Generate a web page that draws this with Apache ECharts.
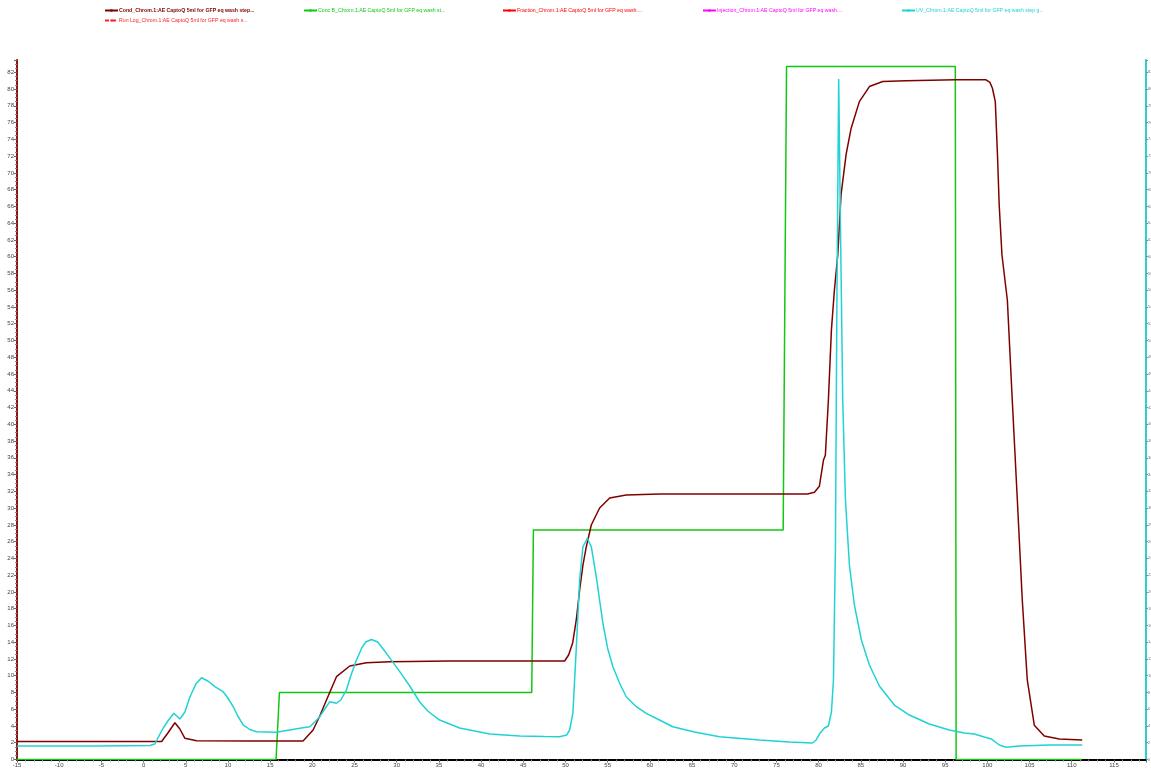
<!DOCTYPE html>
<html>
<head>
<meta charset="utf-8">
<title>Chromatogram</title>
<script src="https://cdn.jsdelivr.net/npm/echarts@6/dist/echarts.min.js"></script>
<style>
  html, body { margin: 0; padding: 0; background: #fff; }
  #chart { width: 1151px; height: 773px; }
</style>
</head>
<body>
<div id="chart"></div>
<script>
// legend names
const condName = 'Cond_Chrom.1:AE CaptoQ 5ml for GFP eq wash step...';
const concName = 'Conc B_Chrom.1:AE CaptoQ 5ml for GFP eq wash st...';
const fracName = 'Fraction_Chrom.1:AE CaptoQ 5ml for GFP eq wash....';
const injName = 'Injection_Chrom.1:AE CaptoQ 5ml for GFP eq wash....';
const uvName = 'UV_Chrom.1:AE CaptoQ 5ml for GFP eq wash step g...';
const runLogName = 'Run Log_Chrom.1:AE CaptoQ 5ml for GFP eq wash s...';

// [volume, value]
const condData = [
  [-15, 2.15], [2.14, 2.15], [2.88, 3.16], [3.71, 4.39], [4.30, 3.64], [4.90, 2.53],
  [6.28, 2.24], [12.59, 2.2], [18.9, 2.2], [20.09, 3.52], [20.88, 5.19], [21.68, 7.1],
  [22.86, 9.88], [24.44, 11.16], [26.41, 11.55], [29.17, 11.67], [36.28, 11.75],
  [45.75, 11.75], [49.9, 11.75], [50.37, 12.47], [50.85, 13.9], [51.28, 16.65],
  [51.68, 20.23], [52.07, 23.2], [52.47, 25.39], [53.06, 27.98], [54.05, 30.01],
  [55.24, 31.2], [57.2, 31.56], [61.15, 31.68], [69.44, 31.68], [78.68, 31.68],
  [79.51, 31.9], [80.09, 32.6], [80.57, 35.7], [80.8, 36.3], [81.16, 42.9],
  [81.52, 51.3], [81.87, 56.0], [82.27, 60.2], [82.66, 67.4], [83.26, 72.2],
  [83.85, 75.3], [84.83, 78.5], [86.02, 80.3], [87.6, 80.9], [90.36, 81.0],
  [96.28, 81.1], [96.47, 81.3], [96.6, 81.1], [99.84, 81.1], [100.3, 80.8],
  [100.6, 80.1], [100.94, 78.5], [101.2, 72.1], [101.4, 66.2], [101.73, 60.2],
  [102.37, 54.8], [102.95, 42.9], [103.55, 31.0], [104.14, 19.0], [104.73, 9.49],
  [105.56, 4.1], [106.74, 2.8], [108.52, 2.45], [111.24, 2.33]
];

const concData = [
  [-15, 0], [15.7, 0], [16.1, 8.0], [46.0, 8.0], [46.2, 27.4], [75.8, 27.4],
  [76.2, 82.7], [96.2, 82.7], [96.3, 0], [111.2, 0]
];

const uvData = [
  [-15, 1.6], [-5.17, 1.6], [0.75, 1.67], [1.34, 1.85], [1.70, 2.57], [2.33, 3.76],
  [2.88, 4.59], [3.59, 5.51], [4.30, 4.83], [4.9, 5.67], [5.49, 7.46], [6.2, 9.0],
  [6.87, 9.76], [7.62, 9.37], [8.45, 8.69], [9.43, 8.09], [9.99, 7.34], [10.62, 6.3],
  [11.17, 5.19], [11.8, 4.12], [12.59, 3.58], [13.39, 3.32], [15.76, 3.25],
  [18.51, 3.72], [19.7, 3.91], [20.29, 4.47], [20.88, 5.11], [21.48, 6.03],
  [22.07, 6.9], [22.86, 6.71], [23.37, 7.1], [24.04, 8.29], [24.55, 9.96],
  [25.23, 11.87], [25.86, 13.31], [26.33, 14.02], [27.0, 14.32], [27.75, 14.02],
  [28.78, 12.67], [30.36, 10.48], [31.54, 8.77], [32.73, 6.86], [33.67, 5.79],
  [35.09, 4.71], [37.46, 3.76], [41.02, 3.04], [44.57, 2.8], [47.53, 2.74],
  [49.31, 2.72], [50.14, 2.92], [50.49, 3.52], [50.88, 5.55], [51.29, 13.46],
  [51.68, 21.42], [52.07, 25.39], [52.59, 26.4], [53.06, 25.39], [53.65, 21.81],
  [54.43, 16.29], [54.99, 13.31], [55.62, 11.07], [56.41, 9.13], [57.2, 7.49],
  [58.31, 6.38], [59.57, 5.51], [61.15, 4.71], [62.72, 3.91], [65.29, 3.28],
  [68.25, 2.72], [72.99, 2.33], [76.54, 2.09], [79.27, 1.97], [79.71, 2.33],
  [80.09, 3.04], [80.69, 3.76], [81.16, 4.0], [81.52, 5.67], [81.76, 9.49],
  [81.99, 25.0], [82.17, 54.8], [82.38, 81.2], [82.58, 64.4], [82.86, 42.9],
  [83.18, 31.0], [83.65, 23.2], [84.24, 18.44], [85.07, 14.26], [86.02, 11.28],
  [87.2, 8.77], [88.98, 6.5], [90.76, 5.31], [93.12, 4.24], [95.49, 3.52],
  [97.27, 3.16], [98.45, 3.04], [99.64, 2.68], [100.47, 2.45], [101.41, 1.73],
  [102.21, 1.46], [103.78, 1.61], [107.33, 1.73], [111.24, 1.73]
];

const xMin = -15, xMax = 118.8, xStep = 5;
const yMin = 0, yMax = 83.47, yStep = 2;

const condColor = '#800000';
const concColor = '#10c810';
const fracColor = '#ff0000';
const injColor = '#ff00ff';
const uvColor = '#20d2d4';
const runLogColor = '#ff2020';

const chart = echarts.init(document.getElementById('chart'));

const legendFont = 'Liberation Sans Narrow, Liberation Sans, Arial, sans-serif';
function legendAt(name, left, top, color, bold) {
  return {
    data: [name],
    left: left,
    top: top,
    padding: 0,
    itemWidth: 13,
    itemHeight: 3,
    itemGap: 2,
    selectedMode: false,
    textStyle: {
      color: color,
      fontSize: 5.2,
      fontFamily: legendFont,
      fontWeight: bold ? 'bold' : 'normal',
      padding: [0, 0, 0, -4]
    }
  };
}

const axisFont = { fontSize: 6, color: '#444', fontFamily: 'Liberation Sans, Arial, sans-serif' };

chart.setOption({
  animation: false,
  backgroundColor: '#fff',
  legend: [
    legendAt(condName, 104, 8, condColor, true),
    legendAt(concName, 303, 8, concColor, false),
    legendAt(fracName, 502, 8, fracColor, false),
    legendAt(injName, 702, 8, injColor, false),
    legendAt(uvName, 901, 8, uvColor, false),
    legendAt(runLogName, 104, 18, runLogColor, false)
  ],
  grid: { left: 17, right: 5, top: 60, bottom: 13.5, containLabel: false, outerBoundsMode: 'none' },
  xAxis: {
    type: 'value',
    min: xMin,
    max: xMax,
    interval: xStep,
    axisLine: { show: true, onZero: false, lineStyle: { color: '#000', width: 2 } },
    axisTick: { show: true, length: 3, lineStyle: { color: '#666' } },
    minorTick: { show: true, splitNumber: 5, length: 2, lineStyle: { color: '#888' } },
    splitLine: { show: false },
    axisLabel: Object.assign({ margin: 3, showMaxLabel: false }, axisFont)
  },
  yAxis: [
    {
      type: 'value',
      min: yMin,
      max: yMax,
      interval: yStep,
      position: 'left',
      axisLine: { show: true, onZero: false, lineStyle: { color: '#8b1414', width: 2 } },
      axisTick: { show: true, length: 3, lineStyle: { color: '#666' } },
      minorTick: { show: true, splitNumber: 4, length: 2, lineStyle: { color: '#888' } },
      splitLine: { show: false },
      axisLabel: Object.assign({ margin: 3, showMaxLabel: false }, axisFont)
    },
    {
      type: 'value',
      min: yMin,
      max: yMax,
      interval: yStep,
      position: 'right',
      axisLine: { show: true, onZero: false, lineStyle: { color: uvColor, width: 2 } },
      axisTick: { show: true, length: 2, lineStyle: { color: '#888' } },
      minorTick: { show: true, splitNumber: 4, length: 1, lineStyle: { color: '#aaa' } },
      splitLine: { show: false },
      axisLabel: { fontSize: 4, color: '#777', margin: 2, showMaxLabel: false }
    }
  ],
  series: [
    {
      name: condName, type: 'line', data: condData, showSymbol: false, symbol: 'none',
      lineStyle: { color: condColor, width: 1.5 }, itemStyle: { color: condColor }, z: 3
    },
    {
      name: concName, type: 'line', data: concData, showSymbol: false, symbol: 'none',
      lineStyle: { color: concColor, width: 1.5 }, itemStyle: { color: concColor }, z: 2
    },
    {
      name: fracName, type: 'line', data: [], symbol: 'none',
      lineStyle: { color: fracColor, width: 1.5 }, itemStyle: { color: fracColor }
    },
    {
      name: injName, type: 'line', data: [], symbol: 'none',
      lineStyle: { color: injColor, width: 1.5 }, itemStyle: { color: injColor }
    },
    {
      name: uvName, type: 'line', yAxisIndex: 1, data: uvData, showSymbol: false, symbol: 'none',
      lineStyle: { color: uvColor, width: 1.5 }, itemStyle: { color: uvColor }, z: 4
    },
    {
      name: runLogName, type: 'line', data: [], symbol: 'none',
      lineStyle: { color: runLogColor, width: 1.5, type: [4, 3] }, itemStyle: { color: runLogColor }
    }
  ]
});
</script>
</body>
</html>
